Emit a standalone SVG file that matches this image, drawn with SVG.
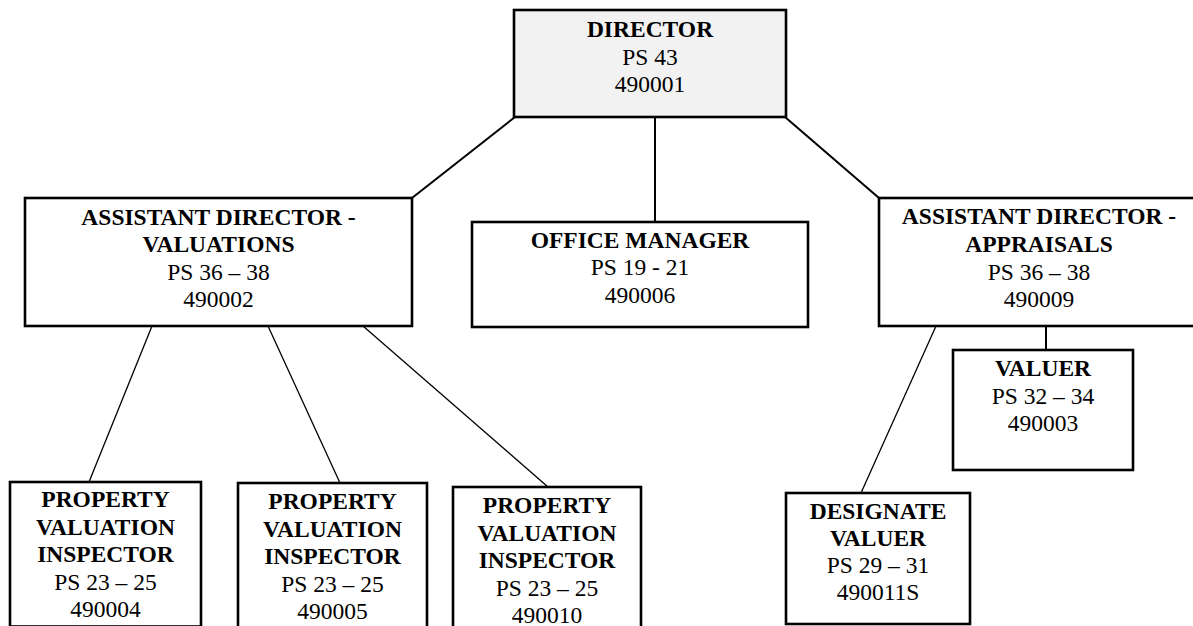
<svg xmlns="http://www.w3.org/2000/svg" width="1193" height="626" viewBox="0 0 1193 626">
<style>
.box{fill:#ffffff;stroke:#000000;stroke-width:2.6}
.dir{fill:#f2f2f2}
.t{font-family:"Liberation Serif","Times New Roman",serif;font-size:23.5px;fill:#000000;text-anchor:middle}
.b{font-weight:bold}
.c1{stroke:#000000;stroke-width:2;fill:none}
.c2{stroke:#000000;stroke-width:1.3;fill:none}
</style>
<rect width="1193" height="626" fill="#ffffff"/>
<g id="connectors">
<line class="c1" x1="515" y1="117" x2="412" y2="198"/>
<line class="c1" x1="655" y1="117" x2="655" y2="222"/>
<line class="c1" x1="785" y1="117" x2="879" y2="198"/>
<line class="c2" x1="152" y1="326" x2="89" y2="482"/>
<line class="c2" x1="268" y1="326" x2="340" y2="483"/>
<line class="c2" x1="363" y1="326" x2="548" y2="487"/>
<line class="c1" x1="1046" y1="326" x2="1046" y2="350"/>
<line class="c2" x1="936" y1="326" x2="861" y2="493"/>
</g>
<g id="director">
<rect class="box dir" x="514" y="10" width="272" height="107"/>
<text class="t b" x="650" y="37">DIRECTOR</text>
<text class="t" x="650" y="65">PS 43</text>
<text class="t" x="650" y="92">490001</text>
</g>
<g id="ad-valuations">
<rect class="box" x="25" y="198" width="387" height="128"/>
<text class="t b" x="218.5" y="225">ASSISTANT DIRECTOR -</text>
<text class="t b" x="218.5" y="252">VALUATIONS</text>
<text class="t" x="218.5" y="280">PS 36 – 38</text>
<text class="t" x="218.5" y="307">490002</text>
</g>
<g id="office-manager">
<rect class="box" x="472" y="222" width="336" height="105"/>
<text class="t b" x="640" y="248">OFFICE MANAGER</text>
<text class="t" x="640" y="275">PS 19 - 21</text>
<text class="t" x="640" y="303">490006</text>
</g>
<g id="ad-appraisals">
<rect class="box" x="879" y="198" width="320" height="128"/>
<text class="t b" x="1039" y="224">ASSISTANT DIRECTOR -</text>
<text class="t b" x="1039" y="252">APPRAISALS</text>
<text class="t" x="1039" y="280">PS 36 – 38</text>
<text class="t" x="1039" y="307">490009</text>
</g>
<g id="valuer">
<rect class="box" x="953" y="350" width="180" height="120"/>
<text class="t b" x="1043" y="376">VALUER</text>
<text class="t" x="1043" y="404">PS 32 – 34</text>
<text class="t" x="1043" y="431">490003</text>
</g>
<g id="designate-valuer">
<rect class="box" x="786" y="493" width="184" height="131"/>
<text class="t b" x="878" y="519">DESIGNATE</text>
<text class="t b" x="878" y="546">VALUER</text>
<text class="t" x="878" y="573">PS 29 – 31</text>
<text class="t" x="878" y="600">490011S</text>
</g>
<g id="pvi-1">
<rect class="box" x="10" y="482" width="191" height="144.5"/>
<text class="t b" x="105.5" y="507">PROPERTY</text>
<text class="t b" x="105.5" y="534.5">VALUATION</text>
<text class="t b" x="105.5" y="562">INSPECTOR</text>
<text class="t" x="105.5" y="589.5">PS 23 – 25</text>
<text class="t" x="105.5" y="617">490004</text>
</g>
<g id="pvi-2">
<rect class="box" x="238" y="483" width="189" height="150"/>
<text class="t b" x="332.5" y="509">PROPERTY</text>
<text class="t b" x="332.5" y="536.5">VALUATION</text>
<text class="t b" x="332.5" y="564">INSPECTOR</text>
<text class="t" x="332.5" y="591.5">PS 23 – 25</text>
<text class="t" x="332.5" y="619">490005</text>
</g>
<g id="pvi-3">
<rect class="box" x="453" y="487" width="188" height="150"/>
<text class="t b" x="547" y="513">PROPERTY</text>
<text class="t b" x="547" y="540.5">VALUATION</text>
<text class="t b" x="547" y="568">INSPECTOR</text>
<text class="t" x="547" y="595.5">PS 23 – 25</text>
<text class="t" x="547" y="623">490010</text>
</g>
</svg>
